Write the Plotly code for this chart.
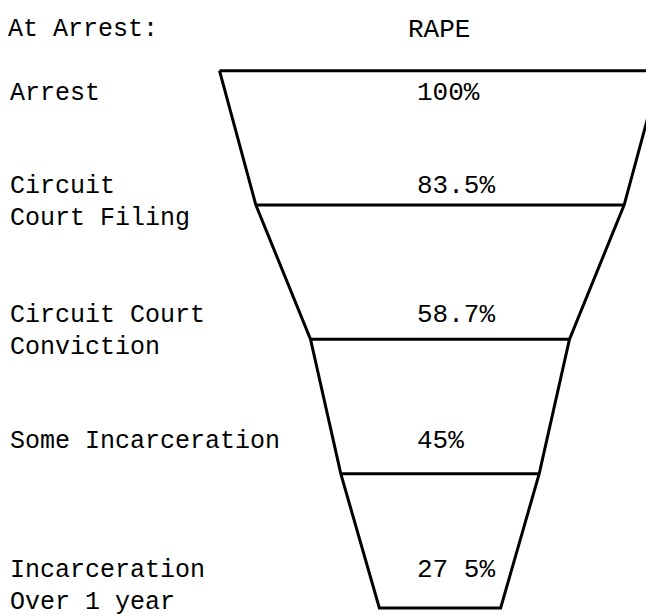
import plotly.graph_objects as go

# stages of the criminal justice process, share of rape arrests remaining
etapas = ["Arrest", "Circuit<br>Court Filing", "Circuit Court<br>Conviction",
          "Some Incarceration", "Incarceration<br>Over 1 year"]
percentuais = [100, 83.5, 58.7, 45, 27.5]
rotulos = ["100%", "83.5%", "58.7%", "45%", "27 5%"]

titulo_esq = "At Arrest:"
titulo_crime = "RAPE"

FONTE = "Liberation Mono"
COR = "#000000"

niveis = list(range(len(percentuais)))

# contorno do funil: lado esquerdo descendo, base, lado direito subindo, topo
xs = [-p / 2 for p in percentuais] + [p / 2 for p in reversed(percentuais)] + [-percentuais[0] / 2]
ys = niveis + list(reversed(niveis)) + [niveis[0]]

# divisorias internas
xd, yd = [], []
for i in niveis[1:-1]:
    xd += [-percentuais[i] / 2, percentuais[i] / 2, None]
    yd += [i, i, None]

fig = go.Figure()
fig.add_trace(go.Scatter(x=xs, y=ys, mode="lines",
                         line=dict(color=COR, width=3), hoverinfo="skip"))
fig.add_trace(go.Scatter(x=xd, y=yd, mode="lines",
                         line=dict(color=COR, width=3), hoverinfo="skip"))

passo = 134.3          # pixels por etapa
px_por_unidade = 4.41  # pixels por ponto percentual
centro = 432           # centro do funil, em pixels

# deslocamento vertical dos textos em relacao a cada divisoria
desloc = [0.17, -0.14, -0.18, -0.24, -0.28]
y_txt = [i + d for i, d in zip(niveis, desloc)]
x_txt = (409 - centro) / px_por_unidade
fig.add_trace(go.Scatter(x=[x_txt] * len(rotulos), y=y_txt, mode="text",
                         text=rotulos, textposition="middle right",
                         textfont=dict(family=FONTE, size=26, color=COR),
                         hoverinfo="skip"))

entrelinha = 32 / passo
for etapa, y in zip(etapas, y_txt):
    for k, linha in enumerate(etapa.split("<br>")):
        fig.add_annotation(x=0.0, xref="paper", y=y + k * entrelinha, yref="y",
                           text=linha, showarrow=False, xanchor="left",
                           yanchor="middle",
                           font=dict(family=FONTE, size=25, color=COR))

fig.add_annotation(x=-0.003, xref="paper", y=0.965, yref="paper",
                   text=titulo_esq, showarrow=False, xanchor="left",
                   yanchor="middle", font=dict(family=FONTE, size=25, color=COR))
fig.add_annotation(x=0.659, xref="paper", y=0.965, yref="paper",
                   text=titulo_crime, showarrow=False, xanchor="center",
                   yanchor="middle", font=dict(family=FONTE, size=26, color=COR))

fig.update_xaxes(range=[-centro / px_por_unidade, (654 - centro) / px_por_unidade],
                 visible=False, fixedrange=True)
fig.update_yaxes(range=[4 + 16 / passo, -62.7 / passo],
                 visible=False, fixedrange=True)
fig.update_layout(
    width=654, height=616,
    margin=dict(l=0, r=0, t=0, b=0),
    paper_bgcolor="white", plot_bgcolor="white",
    showlegend=False,
)

fig.write_html("out.html")
